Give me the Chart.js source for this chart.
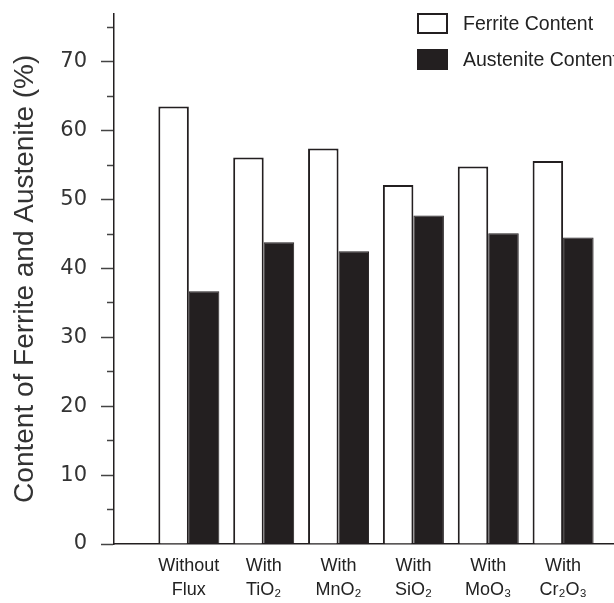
<!DOCTYPE html>
<html>
<head>
<meta charset="utf-8">
<title>Ferrite and Austenite Content</title>
<script src="https://cdn.jsdelivr.net/npm/chart.js"></script>
<style>
  body { margin: 0; background: #fff; }
  #wrap { position: relative; width: 614px; height: 603px; overflow: hidden; }
  #legend { position: absolute; left: 417px; top: 13px; font-family: "Liberation Sans", Arial, sans-serif; font-size: 19.5px; color: #222; white-space: nowrap; }
  .item { position: relative; height: 36px; }
  .box { position: absolute; left: 0; top: 0; width: 27px; height: 17px; border: 2px solid #231f20; }
  .txt { position: absolute; left: 46px; top: -1px; line-height: 22px; }
</style>
</head>
<body>
<div id="wrap">
  <canvas id="myChart" width="614" height="603"></canvas>
  <div id="legend"></div>
</div>
<script>
// categories (two-line labels, subscripts as unicode)
const categories = [
  ['Without', 'Flux'],
  ['With', 'TiO₂'],
  ['With', 'MnO₂'],
  ['With', 'SiO₂'],
  ['With', 'MoO₃'],
  ['With', 'Cr₂O₃']
];
const seriesNames = ['Ferrite Content', 'Austenite Content'];
const ferrite = [63.5, 56.1, 57.4, 52.1, 54.8, 55.6];
const austenite = [36.7, 43.8, 42.5, 47.7, 45.1, 44.5];
const yMajorStep = 10;
const yMinorStep = 5;

const dark = '#231f20';

const toPoints = (vals) => vals.map((v, i) => ({ x: i + 1, y: v }));

const datasets = [
  {
    label: seriesNames[0],
    data: toPoints(ferrite),
    backgroundColor: '#ffffff',
    borderColor: dark,
    borderWidth: 2
  },
  {
    label: seriesNames[1],
    data: toPoints(austenite),
    backgroundColor: dark,
    borderColor: dark,
    borderWidth: 1
  }
];

new Chart(document.getElementById('myChart'), {
  type: 'bar',
  data: { datasets },
  options: {
    responsive: false,
    animation: false,
    devicePixelRatio: 1,
    layout: { padding: 0 },
    datasets: {
      bar: { categoryPercentage: 0.815, barPercentage: 1 }
    },
    plugins: {
      legend: { display: false },
      tooltip: { enabled: false }
    },
    scales: {
      x: {
        type: 'linear',
        offset: false,
        min: 0,
        max: 6.68,
        grid: { display: false, drawTicks: false },
        border: { display: true, color: dark, width: 1.5 },
        afterFit: (s) => { s.height = 59; },
        ticks: {
          stepSize: 1,
          includeBounds: false,
          autoSkip: false,
          maxRotation: 0,
          padding: 10,
          color: '#222',
          font: { family: '"Liberation Sans", Arial, sans-serif', size: 18, lineHeight: 1.33 },
          callback: (v) => (v >= 1 && v <= categories.length ? categories[v - 1] : '')
        }
      },
      y: {
        min: 0,
        max: 77,
        afterFit: (s) => { s.width = 114; },
        grid: {
          drawOnChartArea: false,
          // long tick slot so labels sit clear of the axis; the dash keeps only the inner part
          tickLength: 26,
          tickColor: '#444',
          tickWidth: 1.5,
          tickBorderDash: (ctx) => (ctx.tick && ctx.tick.value % yMajorStep !== 0 ? [0, 19, 7, 0] : [0, 13, 13, 0])
        },
        border: { display: true, color: dark, width: 1.5 },
        ticks: {
          stepSize: yMinorStep,
          includeBounds: false,
          padding: 1,
          color: '#333',
          font: { family: '"DejaVu Sans", Verdana, sans-serif', size: 21 },
          callback: (v) => (v % yMajorStep === 0 ? v : '')
        },
        title: {
          display: true,
          text: 'Content of Ferrite and Austenite (%)',
          color: '#333',
          padding: { top: 8, bottom: 0 },
          font: { family: '"Liberation Sans", Arial, sans-serif', size: 28, lineHeight: 1.2 }
        }
      }
    }
  }
});

// legend built from the datasets
const legend = document.getElementById('legend');
datasets.forEach(ds => {
  const item = document.createElement('div');
  item.className = 'item';
  const box = document.createElement('span');
  box.className = 'box';
  box.style.background = ds.backgroundColor;
  const txt = document.createElement('span');
  txt.className = 'txt';
  txt.textContent = ds.label;
  item.appendChild(box);
  item.appendChild(txt);
  legend.appendChild(item);
});
</script>
</body>
</html>
